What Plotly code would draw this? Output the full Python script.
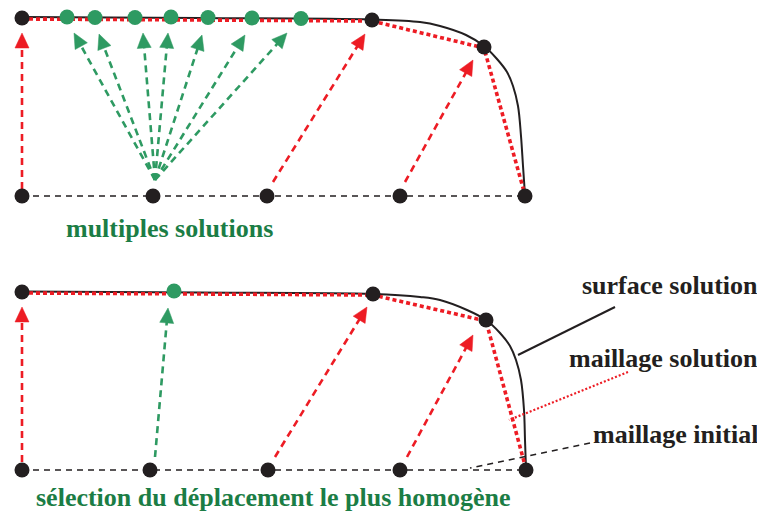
import math
import plotly.graph_objects as go

W, H = 765, 517
PAD = 8  # page body margin
BLACK = "#231f20"
RED = "#ed1c24"
GREEN = "#2e9a62"
GREEN_TXT = "#1b7d45"

# ---- top panel: multiples solutions ----
top_base_x = [22, 153, 267, 400, 525]
top_base_y = [196, 196, 196, 196, 196]
top_node_x = [22, 372, 484]
top_node_y = [18, 20, 47]
top_green_x = [67, 95, 135, 171, 208, 252, 301]
top_green_y = [17, 17.5, 17.5, 17, 17.5, 18, 18.5]
top_surf_x = [22, 200, 372, 420, 440, 466, 484, 497, 507, 513, 518, 521, 523, 525]
top_surf_y = [17, 18, 19.5, 22, 26, 35, 46, 59, 72, 86, 106, 136, 166, 195]
top_mesh_x = [22, 372, 484, 525]
top_mesh_y = [19, 21, 48, 195]
top_red_arrows = [((22, 189), (22, 33)), ((273, 182), (365, 34)), ((405, 182), (473, 60))]
top_green_tips = [(74, 33), (99, 34), (143, 33), (168, 33), (202, 35), (245, 35), (287, 33)]
top_green_start = (155, 180)

# ---- bottom panel: selection ----
bot_base_x = [22, 150, 268, 400, 526]
bot_base_y = [470, 470, 470, 470, 470]
bot_node_x = [22, 373, 486]
bot_node_y = [292, 294, 320]
bot_green_x = [174]
bot_green_y = [291]
bot_surf_x = [22, 200, 373, 420, 440, 467, 486, 500, 510, 516, 521, 524, 525, 526]
bot_surf_y = [291.5, 292.5, 294, 297, 300, 310, 320, 333, 346, 360, 380, 410, 440, 469]
bot_mesh_x = [22, 373, 486, 526]
bot_mesh_y = [293, 295, 321, 469]
bot_red_arrows = [((22, 462), (22, 307)), ((275, 457), (367, 307)), ((407, 457), (473, 335))]
bot_green_arrows = [((155, 457), (168, 308))]

# legend leaders
leader_surface = ([615, 518], [307, 355])
leader_mesh = ([628, 509], [372, 420])
leader_init = ([590, 470], [443, 468])

fig = go.Figure()


def line(x, y, color, width, dash="solid", shape="linear"):
    fig.add_trace(go.Scatter(x=x, y=y, mode="lines", hoverinfo="skip",
                             line=dict(color=color, width=width, dash=dash, shape=shape)))


def arrow(start, tip, color):
    (x0, y0), (x1, y1) = start, tip
    d = math.hypot(x1 - x0, y1 - y0)
    ux, uy = (x1 - x0) / d, (y1 - y0) / d
    L, hw = 15, 7
    bx, by = x1 - ux * L, y1 - uy * L
    line([x0, bx + ux * 2], [y0, by + uy * 2], color, 2.6, "7px,5px")
    fig.add_trace(go.Scatter(
        x=[x1, bx - uy * hw, bx + uy * hw, x1],
        y=[y1, by + ux * hw, by - ux * hw, y1],
        mode="lines", fill="toself", fillcolor=color, hoverinfo="skip",
        line=dict(color=color, width=0.5)))


for bx_, by_, sx, sy, mx, my in [
    (top_base_x, top_base_y, top_surf_x, top_surf_y, top_mesh_x, top_mesh_y),
    (bot_base_x, bot_base_y, bot_surf_x, bot_surf_y, bot_mesh_x, bot_mesh_y),
]:
    line(bx_, by_, BLACK, 1.6, "6px,5px")
    line(sx, sy, BLACK, 2, shape="spline")
    line(mx, my, RED, 3.6, "4px,3px")

line(*leader_surface, BLACK, 2)
line(*leader_mesh, RED, 2.2, "2px,2px")
line(*leader_init, BLACK, 1.6, "6px,5px")

for s, t in top_red_arrows + bot_red_arrows:
    arrow(s, t, RED)
for t in top_green_tips:
    arrow(top_green_start, t, GREEN)
for s, t in bot_green_arrows:
    arrow(s, t, GREEN)

for x, y, c in [
    (top_base_x, top_base_y, BLACK), (top_node_x, top_node_y, BLACK),
    (top_green_x, top_green_y, GREEN),
    (bot_base_x, bot_base_y, BLACK), (bot_node_x, bot_node_y, BLACK),
    (bot_green_x, bot_green_y, GREEN),
]:
    fig.add_trace(go.Scatter(x=x, y=y, mode="markers", hoverinfo="skip",
                             marker=dict(color=c, size=15, line=dict(width=0))))

serif = "Liberation Serif"
labels = [
    ("multiples solutions", 169, 228, GREEN_TXT, "center"),
    ("sélection du déplacement le plus homogène", 273, 497, GREEN_TXT, "center"),
    ("surface solution", 760, 285, BLACK, "right"),
    ("maillage solution", 760, 358, BLACK, "right"),
    ("maillage initial", 760, 434, BLACK, "right"),
]
for txt, x, y, c, al in labels:
    fig.add_annotation(x=x, y=y, text="<b>" + txt + "</b>", showarrow=False,
                       xanchor=al, yanchor="middle",
                       font=dict(family=serif, size=26, color=c))

fig.update_layout(
    width=W - PAD, height=H - PAD, showlegend=False,
    margin=dict(l=0, r=0, t=0, b=0),
    paper_bgcolor="white", plot_bgcolor="white",
    xaxis=dict(range=[PAD, W], visible=False, fixedrange=True),
    yaxis=dict(range=[H, PAD], visible=False, fixedrange=True),
)
fig.write_html("out.html")
